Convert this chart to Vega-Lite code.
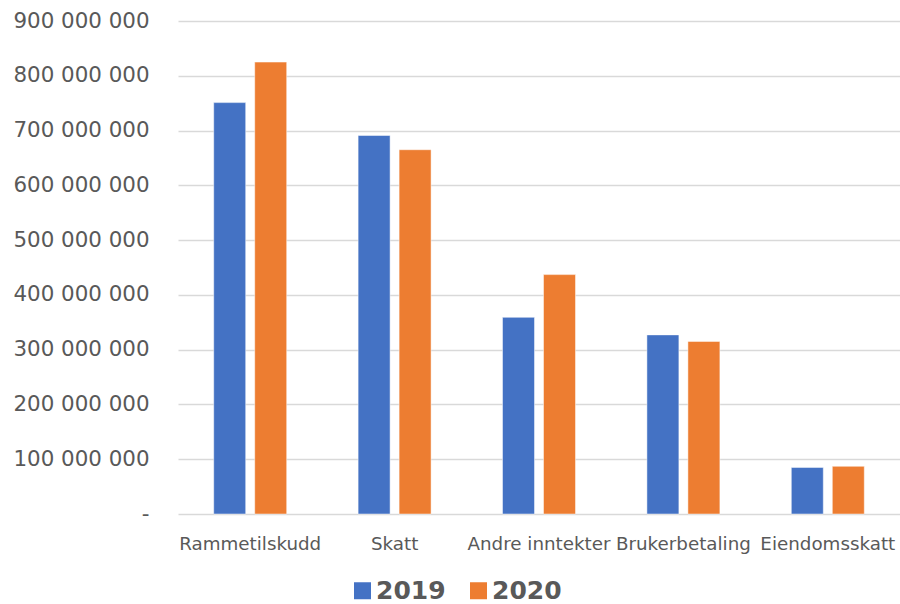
{
  "$schema": "https://vega.github.io/schema/vega-lite/v6.json",
  "width": 722,
  "height": 493,
  "autosize": {"type": "none"},
  "padding": {"left": 178, "top": 21, "right": 0, "bottom": 90},
  "background": "white",
  "data": {
    "values": [
      {"kategori": "Rammetilskudd", "år": "2019", "beløp": 751000000},
      {"kategori": "Rammetilskudd", "år": "2020", "beløp": 825000000},
      {"kategori": "Skatt", "år": "2019", "beløp": 691000000},
      {"kategori": "Skatt", "år": "2020", "beløp": 665000000},
      {"kategori": "Andre inntekter", "år": "2019", "beløp": 359000000},
      {"kategori": "Andre inntekter", "år": "2020", "beløp": 437000000},
      {"kategori": "Brukerbetaling", "år": "2019", "beløp": 327000000},
      {"kategori": "Brukerbetaling", "år": "2020", "beløp": 315000000},
      {"kategori": "Eiendomsskatt", "år": "2019", "beløp": 85000000},
      {"kategori": "Eiendomsskatt", "år": "2020", "beløp": 87000000}
    ]
  },
  "mark": {"type": "bar", "stroke": "white", "strokeOpacity": 0.6, "strokeWidth": 0.8},
  "encoding": {
    "x": {
      "field": "kategori",
      "type": "nominal",
      "sort": ["Rammetilskudd", "Skatt", "Andre inntekter", "Brukerbetaling", "Eiendomsskatt"],
      "scale": {"paddingInner": 0, "paddingOuter": 0},
      "axis": {
        "title": null,
        "labelAngle": 0,
        "labelFont": "DejaVu Sans",
        "labelFontSize": 18.3,
        "labelColor": "#595959",
        "labelPadding": 21,
        "labelOverlap": false,
        "ticks": false,
        "domain": false,
        "grid": false
      }
    },
    "xOffset": {
      "field": "år",
      "type": "nominal",
      "scale": {"paddingInner": 0.22, "paddingOuter": 0.871}
    },
    "y": {
      "field": "beløp",
      "type": "quantitative",
      "scale": {"domain": [0, 900000000]},
      "axis": {
        "title": null,
        "values": [0, 100000000, 200000000, 300000000, 400000000, 500000000, 600000000, 700000000, 800000000, 900000000],
        "labelExpr": "datum.value == 0 ? '-' : replace(format(datum.value, ','), regexp(',', 'g'), ' ')",
        "labelFont": "DejaVu Sans",
        "labelFontSize": 21.4,
        "labelColor": "#595959",
        "labelPadding": 29,
        "labelOverlap": false,
        "ticks": false,
        "domain": false,
        "grid": true,
        "gridColor": "#d9d9d9",
        "gridWidth": 1.5
      }
    },
    "color": {
      "field": "år",
      "type": "nominal",
      "scale": {"domain": ["2019", "2020"], "range": ["#4472C4", "#ED7D31"]},
      "legend": {
        "title": null,
        "orient": "none",
        "direction": "horizontal",
        "legendX": 172,
        "legendY": 557,
        "symbolType": "square",
        "symbolSize": 289,
        "symbolStrokeWidth": 0,
        "labelFont": "DejaVu Sans",
        "labelFontSize": 25,
        "labelFontWeight": "bold",
        "labelColor": "#595959",
        "labelOffset": 1,
        "columnPadding": 20
      }
    }
  },
  "config": {"view": {"stroke": null}}
}
